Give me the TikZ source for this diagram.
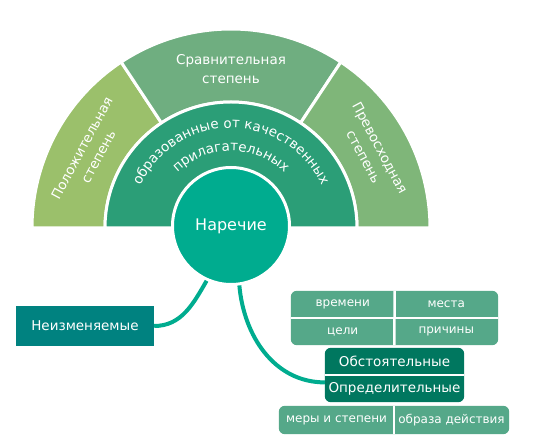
\documentclass[tikz,border=0pt]{standalone}
\usepackage{fontspec}
\setmainfont{DejaVu Sans}
\usetikzlibrary{decorations.text}
\usetikzlibrary{backgrounds}

\definecolor{posgreen}{HTML}{9BC06B}
\definecolor{cmpgreen}{HTML}{6FAE80}
\definecolor{supgreen}{HTML}{7FB679}
\definecolor{ringgreen}{HTML}{2B9E77}
\definecolor{advteal}{HTML}{00AC8F}
\definecolor{boxteal}{HTML}{008280}
\definecolor{darkteal}{HTML}{00775F}
\definecolor{cellgreen}{HTML}{55A889}

\newcommand\secsize{\fontsize{13.5}{18.5}\selectfont}
\newcommand\ringsize{\fontsize{13.5}{16}\selectfont}
\newcommand\advsize{\fontsize{16}{19}\selectfont}
\newcommand\boxsize{\fontsize{13.5}{17}\selectfont}
\newcommand\cellsize{\fontsize{12}{14}\selectfont}

\begin{document}
\begin{tikzpicture}[x=1pt,y=1pt,
  sector/.style={draw=white, line width=3pt},
  seclabel/.style={text=white, align=center, font=\secsize},
  conn/.style={draw=advteal, line width=4pt},
  cell/.style={text=white, minimum width=103.5pt, minimum height=27pt, inner sep=0pt, font=\cellsize},
  darkcell/.style={text=white, minimum width=139pt, minimum height=27pt, inner sep=0pt, font=\boxsize},
  group/.style={rounded corners=6pt},
  sep/.style={draw=white, line width=2.5pt}]
\useasboundingbox (-231,-218) rectangle (302,228);

% outer ring
\filldraw[sector, fill=posgreen] (180:126) arc[start angle=180, end angle=123.5, radius=126] -- (123.5:199) arc[start angle=123.5, end angle=180, radius=199] -- cycle;
\filldraw[sector, fill=cmpgreen] (123.5:126) arc[start angle=123.5, end angle=56.5, radius=126] -- (56.5:199) arc[start angle=56.5, end angle=123.5, radius=199] -- cycle;
\filldraw[sector, fill=supgreen] (56.5:126) arc[start angle=56.5, end angle=0, radius=126] -- (0:199) arc[start angle=0, end angle=56.5, radius=199] -- cycle;
\node[name=pos, seclabel, rotate=61.75] at (151.75:160) {Положительная\\степень};
\node[name=cmp, seclabel] at (90:159) {Сравнительная\\степень};
\node[name=sup, seclabel, rotate=-61.75] at (28.25:160) {Превосходная\\степень};

% inner ring
\filldraw[sector, fill=ringgreen] (-126,0) arc[start angle=180, end angle=0, radius=126] -- cycle;
\path[decorate, decoration={text along path, text color=white, text align=center,
  text={|\ringsize|образованные от качественных}}] (180:100) arc[start angle=180, end angle=0, radius=100];
\path[decorate, decoration={text along path, text color=white, text align=center,
  text={|\ringsize|прилагательных}}] (180:77) arc[start angle=180, end angle=0, radius=77];

\node[name=adv, circle, fill=advteal, draw=white, line width=3pt, minimum size=117pt, text=white, font=\advsize] at (0,2) {Наречие};

\node[name=nz, fill=boxteal, text=white, font=\boxsize, minimum width=138pt, minimum height=40pt, inner sep=0pt] at (-146,-98) {Неизменяемые};

% circumstance cells
\node[name=vremeni, cell] at (111.75,-76.5) {времени};
\node[name=mesta, cell, right of=vremeni, node distance=103.5pt] {места};
\node[name=celi, cell, below of=vremeni, node distance=27pt] {цели};
\node[name=prichiny, cell, right of=celi, node distance=103.5pt] {причины};

\node[name=obst, darkcell] at (163.5,-133.5) {Обстоятельные};
\node[name=opr, darkcell, below of=obst, node distance=27pt] {Определительные};

\node[name=mery, cell, minimum width=115pt, minimum height=28pt] at (105.5,-192) {меры и степени};
\node[name=obraza, cell, minimum width=115pt, minimum height=28pt, right of=mery, node distance=115pt] {образа действия};

\begin{scope}[on background layer]
\fill[group, cellgreen] (vremeni.north west) rectangle (prichiny.south east);
\fill[group, darkteal] (obst.north west) rectangle (opr.south east);
\fill[group, cellgreen] (mery.north west) rectangle (obraza.south east);
\end{scope}
\draw[sep] (vremeni.north east) -- (prichiny.south west);
\draw[sep] (vremeni.south west) -- (mesta.south east);
\draw[sep] (obst.south west) -- (obst.south east);
\draw[sep] (mery.north east) -- (mery.south east);

\draw(adv.246) edge[conn, out=240, in=0](nz.east);
\draw(adv.278) edge[conn, out=275, in=180](opr.175);
\end{tikzpicture}
\end{document}
